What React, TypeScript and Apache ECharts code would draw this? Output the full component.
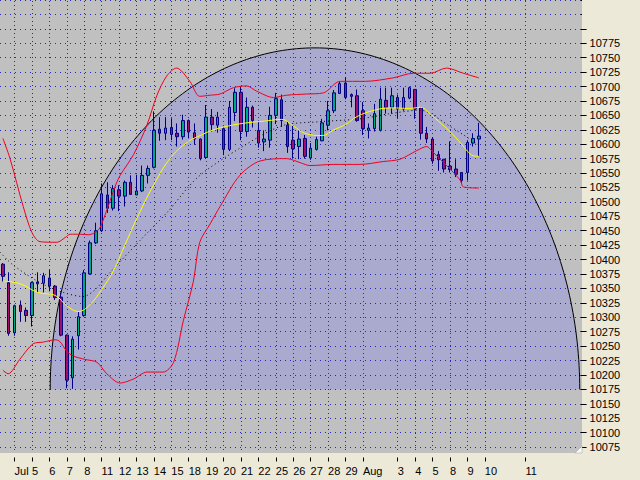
import React, { useEffect, useRef } from 'react';
import * as echarts from 'echarts';

// Trading days shown on the axis (the first day only contributes its last bars; the last two are future slots)
const DAYS = ['Jun 30', 'Jul 1', 'Jul 5', 'Jul 6', 'Jul 7', 'Jul 8', 'Jul 11', 'Jul 12', 'Jul 13', 'Jul 14', 'Jul 15',
  'Jul 18', 'Jul 19', 'Jul 20', 'Jul 21', 'Jul 22', 'Jul 25', 'Jul 26', 'Jul 27', 'Jul 28', 'Jul 29',
  'Aug 1', 'Aug 2', 'Aug 3', 'Aug 4', 'Aug 5', 'Aug 8', 'Aug 9', 'Aug 10', 'Aug 11'];
const DAY_AXIS_LABELS = ['', 'Jul', '5', '6', '7', '8', '11', '12', '13', '14', '15',
  '18', '19', '20', '21', '22', '25', '26', '27', '28', '29',
  'Aug', '', '3', '4', '5', '8', '9', '10', '11'];
const BARS_PER_DAY = [2, 3, 3, 3, 3, 3, 3, 3, 3, 3, 3, 3, 3, 3, 3, 3, 3, 3, 3, 3, 3, 3, 3, 3, 3, 3, 3, 3, 7, 10];

// Intraday bars (three per day)
const OPEN = [10392, 10360, 10273, 10321, 10312, 10303, 10361, 10359, 10368, 10354, 10335, 10269, 10195, 10268, 10303, 10375, 10429, 10450, 10512, 10489,
  10521, 10510, 10534, 10512, 10519, 10546, 10560, 10626, 10619, 10629, 10619, 10613, 10641, 10620, 10609, 10577, 10647, 10633, 10627, 10591,
  10655, 10690, 10622, 10664, 10624, 10604, 10607, 10650, 10677, 10633, 10607, 10596, 10610, 10576, 10591, 10606, 10633, 10658, 10688, 10706,
  10686, 10684, 10658, 10624, 10627, 10624, 10676, 10664, 10681, 10661, 10680, 10695, 10663, 10619, 10609, 10582, 10574, 10562, 10557, 10551,
  10551, 10602, 10609];
const HIGH = [10394, 10378, 10322, 10329, 10317, 10362, 10378, 10377, 10382, 10356, 10343, 10270, 10267, 10309, 10382, 10433, 10464, 10532, 10534, 10529,
  10529, 10537, 10546, 10547, 10563, 10563, 10657, 10647, 10647, 10645, 10636, 10651, 10643, 10636, 10610, 10668, 10661, 10656, 10630, 10675,
  10697, 10700, 10681, 10667, 10641, 10624, 10665, 10689, 10686, 10639, 10632, 10624, 10616, 10602, 10613, 10644, 10675, 10694, 10709, 10716,
  10688, 10695, 10673, 10636, 10670, 10698, 10698, 10698, 10686, 10698, 10700, 10695, 10664, 10630, 10612, 10588, 10574, 10605, 10574, 10551,
  10607, 10619, 10637];
const LOW = [10362, 10268, 10268, 10292, 10292, 10284, 10343, 10343, 10345, 10330, 10267, 10177, 10176, 10244, 10301, 10374, 10427, 10448, 10481, 10485,
  10484, 10492, 10512, 10512, 10517, 10532, 10558, 10606, 10607, 10607, 10596, 10608, 10610, 10599, 10572, 10575, 10622, 10620, 10581, 10588,
  10640, 10607, 10613, 10629, 10594, 10588, 10594, 10635, 10630, 10585, 10575, 10574, 10575, 10573, 10589, 10605, 10624, 10654, 10687, 10678,
  10664, 10639, 10616, 10610, 10622, 10622, 10653, 10653, 10644, 10658, 10678, 10644, 10608, 10602, 10566, 10554, 10551, 10551, 10543, 10533,
  10537, 10596, 10579];
const CLOSE = [10371, 10272, 10320, 10310, 10303, 10360, 10358, 10372, 10354, 10334, 10269, 10191, 10262, 10301, 10377, 10429, 10450, 10514, 10489, 10523,
  10510, 10534, 10513, 10519, 10546, 10558, 10624, 10619, 10628, 10617, 10613, 10641, 10621, 10609, 10575, 10647, 10634, 10647, 10591, 10664,
  10690, 10622, 10664, 10641, 10602, 10609, 10650, 10679, 10641, 10596, 10592, 10609, 10579, 10593, 10608, 10637, 10658, 10689, 10705, 10681,
  10683, 10641, 10627, 10628, 10653, 10678, 10664, 10684, 10661, 10681, 10698, 10661, 10619, 10609, 10571, 10573, 10557, 10556, 10548, 10537,
  10603, 10610, 10614];

// Indicator lines as [bar position, value]
const MOVING_AVERAGE = [[0, 10363], [3, 10358], [6, 10343], [9, 10338], [11, 10320], [13, 10310], [15, 10322], [17, 10348], [19, 10380],
  [21, 10425], [23, 10470], [26, 10530], [29, 10578], [32, 10605], [34, 10615], [36, 10624], [39, 10632], [42, 10637], [45, 10640],
  [48, 10643], [50, 10632], [52, 10619], [55, 10615], [57, 10625], [59, 10634], [61, 10648], [64, 10659], [67, 10663], [70, 10662],
  [72, 10664], [73, 10658], [75, 10640], [77, 10622], [79, 10600], [80, 10588], [81, 10580], [82, 10579]];
const UPPER_BAND = [[0, 10610], [1.2, 10576], [3.5, 10492], [5, 10447], [6.4, 10431], [9.3, 10430], [10.7, 10438], [11.6, 10444], [13.3, 10444],
  [14.7, 10443], [15.9, 10447], [16.7, 10455], [17.9, 10486], [19.3, 10526], [20.2, 10546], [22.5, 10582], [24.8, 10633], [26.5, 10684],
  [28.2, 10718], [29.9, 10732], [32.2, 10709], [33.9, 10683], [35.7, 10685], [37.4, 10687], [39.7, 10698], [42, 10701], [43.7, 10692],
  [46.6, 10681], [48.9, 10685], [52.3, 10687], [55.2, 10689], [58.1, 10709], [62.4, 10709], [67.2, 10715], [70.7, 10723], [73.6, 10723],
  [76.4, 10732], [79.3, 10723], [82, 10715]];
const LOWER_BAND = [[0, 10208], [0.9, 10202], [2.9, 10227], [5.2, 10254], [7, 10257], [9, 10261], [9.8, 10258], [11, 10241], [12.1, 10233],
  [14.1, 10227], [16.2, 10222], [17.9, 10202], [20.2, 10186], [22.5, 10193], [24.8, 10205], [27.6, 10205], [29.4, 10222], [31.1, 10295],
  [32.8, 10362], [33.9, 10430], [35.7, 10462], [37.4, 10492], [40.8, 10546], [44.3, 10571], [48.9, 10575], [51.2, 10568], [52.9, 10563],
  [56.9, 10565], [61.5, 10565], [65.5, 10570], [68.4, 10574], [71.3, 10589], [73, 10596], [73.9, 10588], [75.3, 10574], [77.6, 10551],
  [78.8, 10537], [79.3, 10526], [82, 10524]];
const SLOW_AVERAGE = [[-0.5, 10413], [1.7, 10391], [6.4, 10360], [10.4, 10343], [13.8, 10336], [15.9, 10348], [18.4, 10377], [23.6, 10433],
  [28.3, 10482], [33.6, 10543], [40.8, 10593], [48.1, 10632], [54.6, 10639], [61.5, 10644], [66.7, 10653], [71.8, 10659], [77, 10631],
  [82.2, 10597]];

// Value axis
const Y_MIN = 10050;
const Y_MAX = 10850;
const Y_STEP = 25;
const Y_LABEL_MIN = 10075;
const Y_LABEL_MAX = 10775;

// Half-ellipse annotation, in chart units
const ARC_CENTER_BAR = 53.75;
const ARC_HALF_WIDTH_BARS = 45.6;
const ARC_BASE_VALUE = 10175;
const ARC_TOP_VALUE = 10767;

const FONT = 'Liberation Sans, Arial, sans-serif';
const BEIGE = '#ECE9D8';
const GRID_DOT = '#2828C0';

export default function App() {
  const ref = useRef<HTMLDivElement>(null);

  useEffect(() => {
    if (!ref.current) return;
    const chart = echarts.init(ref.current, null, { renderer: 'svg' });

    const slots: string[] = [];
    const slotLabel: string[] = [];
    DAYS.forEach((d, i) => {
      for (let k = 0; k < BARS_PER_DAY[i]; k++) {
        slots.push(d + ' #' + (k + 1));
        slotLabel.push(k === 0 ? DAY_AXIS_LABELS[i] : '');
      }
    });
    const N = slots.length;
    const isTick = (idx: number) => slotLabel[idx] !== '';
    const candles = OPEN.map((o, i) => [o, CLOSE[i], LOW[i], HIGH[i]]);

    const plotW = 580.6;
    const pxPerUnit = 414 / 700;
    const gridTop = 32.7 - (Y_MAX - 10775) * pxPerUnit;
    const gridH = (Y_MAX - Y_MIN) * pxPerUnit;
    const vDashOffset = -(Math.ceil(gridTop) - gridTop);

    const option: any = {
      animation: false,
      backgroundColor: BEIGE,
      grid: { left: 0, top: gridTop, width: plotW, height: gridH, show: false },
      xAxis: [
        {
          type: 'category', data: slots, boundaryGap: true, position: 'bottom', z: 0,
          axisLine: { show: false, onZero: false }, axisTick: { show: false }, axisLabel: { show: false },
          splitLine: {
            show: true, interval: (i: number) => isTick(i), alignWithLabel: true,
            lineStyle: { color: GRID_DOT, type: [1, 3], dashOffset: vDashOffset, width: 1 },
          },
        },
        {
          type: 'category', data: slots, boundaryGap: true, position: 'bottom', z: 10,
          axisLine: { show: false, onZero: false },
          axisTick: { show: true, inside: true, length: 4, alignWithLabel: true, interval: (i: number) => isTick(i), lineStyle: { color: '#000', width: 1 } },
          axisLabel: {
            show: true, interval: (i: number) => isTick(i), formatter: (_v: string, i: number) => slotLabel[i],
            align: 'left', margin: 4, color: '#000', fontSize: 11, fontFamily: FONT,
          },
          splitLine: { show: false },
        },
        { type: 'value', min: -0.5, max: N - 0.5, show: false, axisLine: { onZero: false } },
      ],
      yAxis: [
        {
          type: 'value', position: 'right', min: Y_MIN, max: Y_MAX, interval: Y_STEP, z: 0,
          axisLine: { show: false, onZero: false },
          axisTick: { show: true, length: 6, lineStyle: { color: '#000', width: 1 } },
          axisLabel: {
            margin: 9, color: '#000', fontSize: 11, fontFamily: FONT,
            formatter: (v: number) => (v >= Y_LABEL_MIN && v <= Y_LABEL_MAX ? String(v) : ''),
          },
          splitLine: { show: true, lineStyle: { color: GRID_DOT, type: [1, 4], width: 1 } },
        },
      ],
      series: [
        {
          type: 'candlestick', xAxisIndex: 0, yAxisIndex: 0, data: candles, barWidth: 3, z: 2,
          itemStyle: { color: '#00A880', color0: '#A0106A', borderColor: '#000080', borderColor0: '#000080', borderWidth: 1 },
        },
        {
          type: 'line', xAxisIndex: 2, yAxisIndex: 0, data: SLOW_AVERAGE, symbol: 'none', smooth: 0.3, z: 3,
          lineStyle: { color: '#000000', width: 1, type: [1, 3] },
        },
        {
          type: 'line', xAxisIndex: 2, yAxisIndex: 0, data: UPPER_BAND, symbol: 'none', smooth: 0.3, z: 3,
          lineStyle: { color: '#F00020', width: 1 },
        },
        {
          type: 'line', xAxisIndex: 2, yAxisIndex: 0, data: LOWER_BAND, symbol: 'none', smooth: 0.3, z: 3,
          lineStyle: { color: '#F00020', width: 1 },
        },
        {
          type: 'line', xAxisIndex: 2, yAxisIndex: 0, data: MOVING_AVERAGE, symbol: 'none', smooth: 0.4, z: 3,
          lineStyle: { color: '#FFFF00', width: 1 },
        },
      ],
    };
    chart.setOption(option);

    let c: number[] | null = null;
    let e: number[] | null = null;
    try {
      c = chart.convertToPixel({ xAxisIndex: 2, yAxisIndex: 0 } as any, [ARC_CENTER_BAR, ARC_BASE_VALUE]) as any;
      e = chart.convertToPixel({ xAxisIndex: 2, yAxisIndex: 0 } as any, [ARC_CENTER_BAR + ARC_HALF_WIDTH_BARS, ARC_TOP_VALUE]) as any;
    } catch (err) {
      c = null;
    }
    if (!c || !e || !isFinite(c[0]) || !isFinite(e[0])) {
      const sx = (v: number) => ((v + 0.5) / N) * plotW;
      const sy = (v: number) => gridTop + (Y_MAX - v) * pxPerUnit;
      c = [sx(ARC_CENTER_BAR), sy(ARC_BASE_VALUE)];
      e = [sx(ARC_CENTER_BAR + ARC_HALF_WIDTH_BARS), sy(ARC_TOP_VALUE)];
    }
    const rx = e[0] - c[0];
    const ry = c[1] - e[1];
    const pts: number[][] = [];
    const steps = 180;
    for (let i = 0; i <= steps; i++) {
      const t = Math.PI - (Math.PI * i) / steps;
      pts.push([c[0] + rx * Math.cos(t), c[1] - ry * Math.sin(t)]);
    }
    const plotBottom = 453;
    const plotRight = 582;

    chart.setOption({
      graphic: {
        elements: [
          { type: 'rect', id: 'bg', z: -10, silent: true, shape: { x: 0, y: 0, width: plotRight, height: plotBottom }, style: { fill: '#C0C0C0' } },
          { type: 'polygon', id: 'arcFill', z: -5, silent: true, shape: { points: pts }, style: { fill: '#A9AACE' } },
          { type: 'polyline', id: 'arcLine', z: 1, silent: true, shape: { points: pts }, style: { stroke: '#000000', lineWidth: 1, fill: null } },
          { type: 'rect', id: 'bottomPanel', z: 5, silent: true, shape: { x: 0, y: plotBottom, width: 640, height: 480 - plotBottom }, style: { fill: BEIGE } },
          { type: 'rect', id: 'topRightPanel', z: 5, silent: true, shape: { x: plotRight, y: 0, width: 640 - plotRight, height: 26 }, style: { fill: BEIGE } },
          { type: 'polygon', id: 'grip', z: 6, silent: true, shape: { points: [[575, plotBottom], [plotRight, plotBottom - 7], [plotRight, plotBottom]] }, style: { fill: '#F8F8F8', stroke: '#A0A0A0', lineWidth: 0.5 } },
        ],
      },
    });

    return () => {
      chart.dispose();
    };
  }, []);

  return <div ref={ref} style={{ position: 'fixed', left: 0, top: 0, width: 640, height: 480, background: BEIGE }} />;
}
